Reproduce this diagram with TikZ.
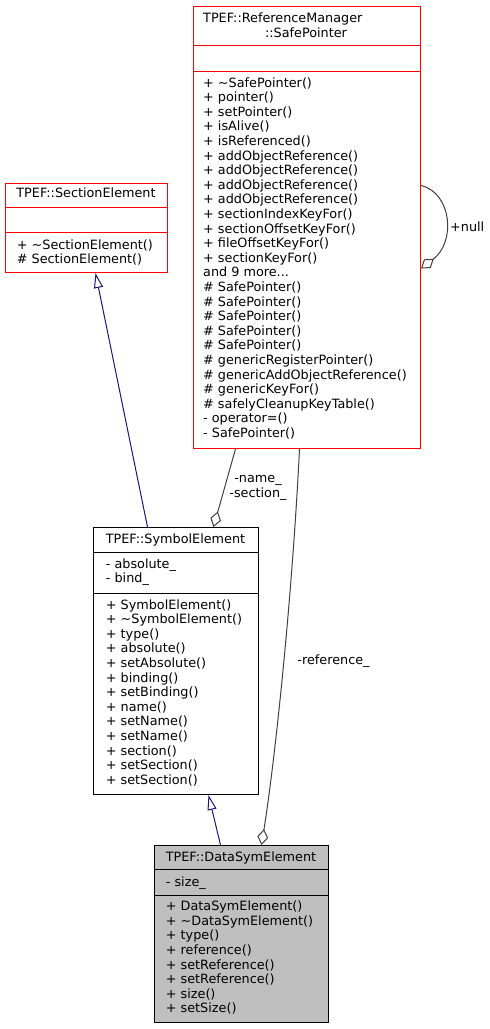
\documentclass[tikz,border=0pt]{standalone}
\usepackage{fontspec}
\setmainfont{DejaVu Sans}
\usetikzlibrary{arrows.meta}
\definecolor{navy}{HTML}{191970}
\definecolor{edgegray}{HTML}{404040}
\definecolor{curfill}{HTML}{BFBFBF}
\newcommand{\threedots}{...}
\tikzset{
  classbox/.style={draw, line width=1pt, inner sep=0pt, anchor=north west},
  member/.style={anchor=base west, inner sep=0pt},
  classname/.style={anchor=base, inner sep=0pt},
  inherit/.style={navy, line width=1pt, -{Triangle[open, length=15pt, width=9pt]}},
  usage/.style={edgegray, line width=1pt, -{Diamond[open, length=16pt, width=11pt]}},
}
\begin{document}
\begin{tikzpicture}[x=1pt, y=-1pt, font=\fontsize{12.8}{14.6}\selectfont]
\useasboundingbox (0,0) rectangle (490,1029);

% TPEF::ReferenceManager::SafePointer
\node[classbox, draw=red, minimum width=227.5pt, minimum height=442pt] (sp) at (192.5,6) {};
\draw[red, line width=1pt] (192.5,45.5) -- (420,45.5);
\draw[red, line width=1pt] (192.5,71) -- (420,71);
\node[member] (sp-t1) at (203,22) {TPEF::ReferenceManager};
\node[classname] (sp-t2) at (306,37) {::SafePointer};
\foreach \m [count=\i from 0] in {+ \textasciitilde SafePointer(), + pointer(), + setPointer(),
  + isAlive(), + isReferenced(), + addObjectReference(), + addObjectReference(),
  + addObjectReference(), + addObjectReference(), + sectionIndexKeyFor(),
  + sectionOffsetKeyFor(), + fileOffsetKeyFor(), + sectionKeyFor(), and 9 more\threedots,
  \# SafePointer(), \# SafePointer(), \# SafePointer(), \# SafePointer(), \# SafePointer(),
  \# genericRegisterPointer(), \# genericAddObjectReference(), \# genericKeyFor(),
  \# safelyCleanupKeyTable(), - operator=(), - SafePointer()}
  \node[member] (sp-m\i) at (203,87+14.6*\i) {\m};

% TPEF::SectionElement
\node[classbox, draw=red, minimum width=162pt, minimum height=89pt] (sec) at (5,183) {};
\draw[red, line width=1pt] (5,207) -- (167,207);
\draw[red, line width=1pt] (5,232) -- (167,232);
\node[classname] (sec-t) at (86,197.7) {TPEF::SectionElement};
\node[member] (sec-m0) at (16.7,249) {+ \textasciitilde SectionElement()};
\node[member] (sec-m1) at (16.7,263.6) {\# SectionElement()};

% TPEF::SymbolElement
\node[classbox, minimum width=165pt, minimum height=267pt] (sym) at (93,527) {};
\draw[line width=1pt] (93,552) -- (258,552);
\draw[line width=1pt] (93,593) -- (258,593);
\node[classname] (sym-t) at (175.5,543) {TPEF::SymbolElement};
\node[member] (sym-a0) at (105.7,568) {- absolute\_};
\node[member] (sym-a1) at (105.7,582.6) {- bind\_};
\foreach \m [count=\i from 0] in {+ SymbolElement(), + \textasciitilde SymbolElement(), + type(),
  + absolute(), + setAbsolute(), + binding(), + setBinding(), + name(), + setName(),
  + setName(), + section(), + setSection(), + setSection()}
  \node[member] (sym-m\i) at (105.7,609+14.6*\i) {\m};

% TPEF::DataSymElement
\node[classbox, fill=curfill, minimum width=174pt, minimum height=177pt] (dat) at (154,845) {};
\draw[line width=1pt] (154,869) -- (328,869);
\draw[line width=1pt] (154,895) -- (328,895);
\node[classname] (dat-t) at (241,861) {TPEF::DataSymElement};
\node[member] (dat-a0) at (165.7,886) {- size\_};
\foreach \m [count=\i from 0] in {+ DataSymElement(), + \textasciitilde DataSymElement(), + type(),
  + reference(), + setReference(), + setReference(), + size(), + setSize()}
  \node[member] (dat-m\i) at (165.7,910.7+14.6*\i) {\m};

% inheritance
\draw[inherit] ([xshift=-28.5pt]sym.north) -- ([xshift=9pt]sec.south);
\draw[inherit] ([xshift=-21pt]dat.north) -- ([xshift=32.5pt]sym.south);

% members
\draw[usage] ([xshift=-71.25pt]sp.south) -- ([xshift=37.5pt]sym.north);
\node[align=center, inner sep=0pt] (lbl-name) at (258,488) {-name\_\\-section\_};
\draw[usage] ([xshift=-7.25pt]sp.south) .. controls (292,600) and (275,760) .. ([xshift=20pt]dat.north);
\node[classname] (lbl-ref) at (333.5,664) {-reference\_};
\draw[usage] ([yshift=42pt]sp.east) .. controls (452,193) and (456,242) .. ([yshift=-41pt]sp.east);
\node[member] (lbl-null) at (450,231) {+null};

\end{tikzpicture}
\end{document}
